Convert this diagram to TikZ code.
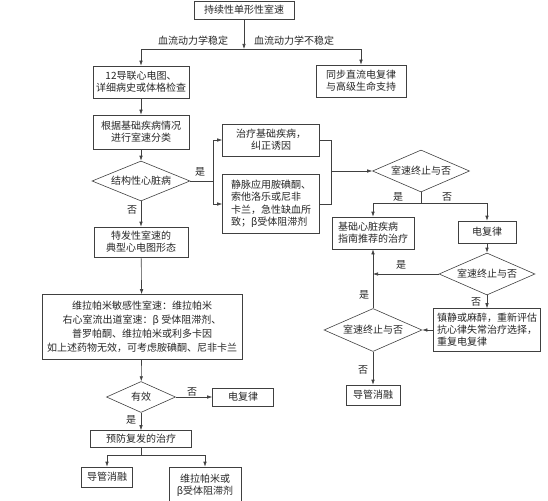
\documentclass[tikz,border=0pt]{standalone}
\usepackage{fontspec}
\newfontfamily\cjk{Noto Sans CJK SC}
\usetikzlibrary{shapes.geometric,arrows.meta}

\begin{document}
\begin{tikzpicture}[x=1pt,y=-1pt,
        >={Latex[length=5pt,width=3.5pt]},
        every node/.style={font=\cjk\fontsize{10}{12}\selectfont, text=black!85},
        sz/.style 2 args={minimum width=#1pt, minimum height=#2pt},
        box/.style={draw=black!75, line width=0.6pt, align=center, inner sep=1pt},
        dia/.style={draw=black!75, line width=0.6pt, diamond, aspect=2.4, inner sep=0pt},
        lbl/.style={inner sep=1pt},
        line/.style={draw=black!75, line width=0.6pt}]
    \useasboundingbox (0,0) rectangle (548,500);

    % left column
    \node[box, sz={100}{18}] (start) at (244,10) {持续性单形性室速};
    \node[box, sz={96}{32}] (ecg) at (141,82) {12导联心电图、\\详细病史或体格检查};
    \node[box, sz={90}{32}] (sync) at (361,81) {同步直流电复律\\与高级生命支持};
    \node[box, sz={96}{34}] (classify) at (141,132) {根据基础疾病情况\\进行室速分类};
    \node[dia, sz={98}{40}] (organic) at (141,181) {结构性心脏病};
    \node[box, sz={94}{30}] (idio) at (141,242) {特发性室速的\\典型心电图形态};
    \node[box, sz={200}{65}, font=\cjk\fontsize{10}{14}\selectfont] (drugs) at (142,327)
        {维拉帕米敏感性室速：维拉帕米\\右心室流出道室速：β 受体阻滞剂、\\普罗帕酮、维拉帕米或利多卡因\\如上述药物无效，可考虑胺碘酮、尼非卡兰};
    \node[dia, sz={69}{31}] (effect) at (141,397) {有效};
    \node[box, sz={61}{18}] (cv2) at (243,397) {电复律};
    \node[box, sz={101}{17}] (prevent) at (141,439) {预防复发的治疗};
    \node[box, sz={51}{20}] (abl1) at (107,477) {导管消融};
    \node[box, sz={72}{36}] (oral) at (205,485) {维拉帕米或\\β受体阻滞剂};

    % right part
    \node[box, sz={97}{32}] (treat) at (271,140) {治疗基础疾病，\\纠正诱因};
    \node[box, sz={97}{59}, align=left, font=\cjk\fontsize{10}{12.5}\selectfont] (iv) at (271,204)
        {静脉应用胺碘酮、\\索他洛乐或尼非\\卡兰，急性缺血所\\致；β受体阻滞剂};
    \node[dia, sz={97}{42}] (stop1) at (421,171) {室速终止与否};
    \node[box, sz={82}{32}, align=left] (guide) at (373,233) {基础心脏疾病\\指南推荐的治疗};
    \node[box, sz={58}{22}] (cv1) at (487,232) {电复律};
    \node[dia, sz={96}{42}] (stop2) at (487,274) {室速终止与否};
    \node[box, sz={107}{43}, align=left] (sedate) at (487,330)
        {镇静或麻醉，重新评估\\抗心律失常治疗选择，\\重复电复律};
    \node[dia, sz={98}{43}] (stop3) at (373,330) {室速终止与否};
    \node[box, sz={54}{20}] (abl2) at (373,395) {导管消融};

    % branch labels
    \node[lbl] (stable) at (193,41) {血流动力学稳定};
    \node[lbl] (unstable) at (294,41) {血流动力学不稳定};
    \node[lbl] (yes1) at (200,172) {是};
    \node[lbl] (no1) at (132,210) {否};
    \node[lbl] (yes2) at (398,197) {是};
    \node[lbl] (no2) at (447,197) {否};
    \node[lbl] (yes3) at (401,265) {是};
    \node[lbl] (no3) at (476,302) {否};
    \node[lbl] (yes4) at (364,295) {是};
    \node[lbl] (no4) at (363,370) {否};
    \node[lbl] (no5) at (192,392) {否};
    \node[lbl] (yes5) at (131,420) {是};

    \coordinate (split) at (244,49);
    \coordinate (fork) at (213,181);
    \coordinate (merge) at (331,171);
    \coordinate (s1) at (421,203);
    \coordinate (join) at (373,274);
    \coordinate (s2) at (141,455);

    \draw[line,->] (start) -- (split);
    \draw[line,->] (split) -| (ecg);
    \draw[line,->] (split) -| (sync);
    \draw[line,->] (ecg) -- (classify);
    \draw[line,->] (classify) -- (organic);
    \draw[line,->] (organic) -- (idio);
    \draw[line] (organic) -- (fork);
    \draw[line,->] (fork) |- (treat);
    \draw[line,->] (fork) |- (iv);
    \draw[line] (treat) -| (merge);
    \draw[line] (iv) -| (merge);
    \draw[line,->] (merge) -- (stop1);
    \draw[line] (stop1) -- (s1);
    \draw[line,->] (s1) -| (guide);
    \draw[line,->] (s1) -| (cv1);
    \draw[line,->] (cv1) -- (stop2);
    \draw[line,->] (stop2) -- (join);
    \draw[line,->] (stop2) -- (sedate);
    \draw[line,->] (sedate) -- (stop3);
    \draw[line,->] (stop3) -- (guide);
    \draw[line,->] (stop3) -- (abl2);
    \draw[line,->] (idio) -- (drugs);
    \draw[line,->] (drugs) -- (effect);
    \draw[line,->] (effect) -- (cv2);
    \draw[line,->] (effect) -- (prevent);
    \draw[line] (prevent) -- (s2);
    \draw[line,->] (s2) -| (abl1);
    \draw[line,->] (s2) -| (oral);
\end{tikzpicture}
\end{document}
